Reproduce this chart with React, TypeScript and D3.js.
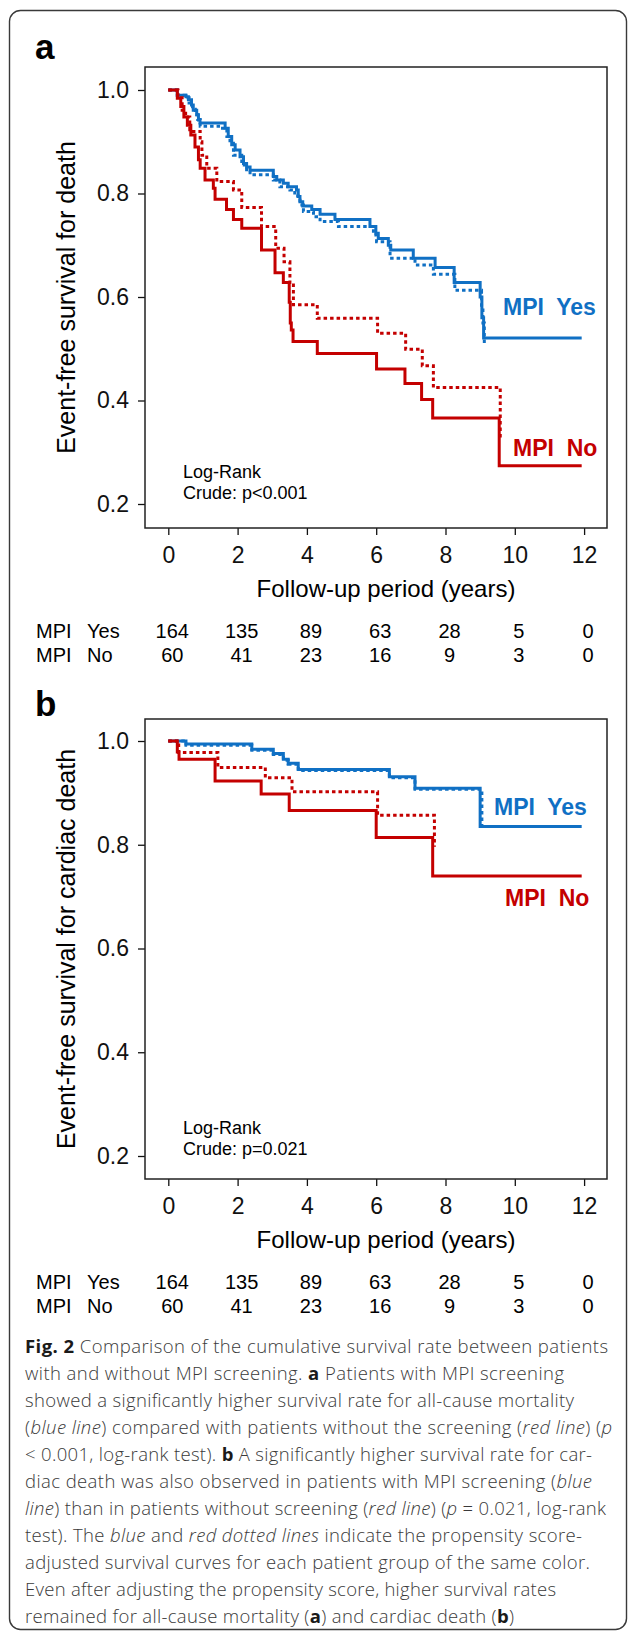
import { useEffect, useRef } from 'react';
import * as d3 from 'd3';

// number-at-risk table
const xTicks = [0, 2, 4, 6, 8, 10, 12];
const yTicks = [0.2, 0.4, 0.6, 0.8, 1.0];
const riskYes = [164, 135, 89, 63, 28, 5, 0];
const riskNo = [60, 41, 23, 16, 9, 3, 0];

// panel a, all-cause death: [years, survival]
const aYes: [number, number][] = [
  [0, 1], [0.26, 0.99], [0.51, 0.987], [0.58, 0.981], [0.67, 0.971], [0.72, 0.961], [0.82, 0.952],
  [0.87, 0.942], [0.915, 0.936], [1.64, 0.926], [1.73, 0.91], [1.83, 0.894], [1.93, 0.884],
  [2.07, 0.871], [2.17, 0.858], [2.26, 0.851], [2.36, 0.845], [3.03, 0.833], [3.13, 0.826],
  [3.32, 0.82], [3.46, 0.813], [3.7, 0.807], [3.75, 0.794], [3.8, 0.784], [3.88, 0.776],
  [4.14, 0.769], [4.38, 0.76], [4.81, 0.75], [5.82, 0.736], [5.99, 0.723], [6.06, 0.713],
  [6.35, 0.7], [6.42, 0.691], [7.07, 0.675], [7.7, 0.657], [8.25, 0.628], [9.0, 0.6],
  [9.05, 0.56], [9.1, 0.521], [11.93, 0.521],
];
const aYesAdj: [number, number][] = [
  [0, 1], [0.26, 0.99], [0.5, 0.985], [0.6, 0.975], [0.7, 0.963], [0.78, 0.952], [0.85, 0.943],
  [0.92, 0.93], [1.45, 0.926], [1.69, 0.91], [1.78, 0.897], [1.88, 0.874], [2.12, 0.855],
  [2.26, 0.843], [2.36, 0.836], [3.03, 0.826], [3.22, 0.813], [3.51, 0.807], [3.65, 0.795],
  [3.8, 0.778], [3.9, 0.765], [4.19, 0.755], [4.38, 0.746], [4.91, 0.736], [5.92, 0.72],
  [6.01, 0.707], [6.4, 0.675], [7.12, 0.662], [7.65, 0.644], [8.27, 0.613], [9.04, 0.58],
  [9.08, 0.55], [9.12, 0.51],
];
const aNo: [number, number][] = [
  [0, 1], [0.26, 0.984], [0.36, 0.968], [0.45, 0.948], [0.55, 0.932], [0.65, 0.913], [0.77, 0.89],
  [0.87, 0.865], [0.92, 0.849], [1.06, 0.826], [1.3, 0.81], [1.35, 0.789], [1.68, 0.769],
  [1.88, 0.75], [2.12, 0.733], [2.69, 0.691], [3.08, 0.647], [3.32, 0.628], [3.49, 0.59],
  [3.52, 0.55], [3.55, 0.536], [3.6, 0.514], [4.3, 0.491], [6.01, 0.461], [6.83, 0.433],
  [7.31, 0.402], [7.63, 0.366], [9.55, 0.274], [11.93, 0.274],
];
const aNoAdj: [number, number][] = [
  [0, 1], [0.28, 0.985], [0.4, 0.961], [0.5, 0.948], [0.62, 0.923], [0.65, 0.92], [0.92, 0.9],
  [0.97, 0.874], [1.11, 0.849], [1.4, 0.823], [1.88, 0.807], [2.12, 0.773], [2.69, 0.736],
  [3.1, 0.694], [3.34, 0.668], [3.51, 0.628], [3.61, 0.585], [4.3, 0.559], [6.04, 0.53],
  [6.85, 0.499], [7.33, 0.467], [7.65, 0.425], [9.58, 0.327],
];

// panel b, cardiac death
const bYes: [number, number][] = [
  [0, 1], [0.51, 0.994], [2.41, 0.984], [3.03, 0.976], [3.32, 0.965], [3.46, 0.957],
  [3.75, 0.945], [6.38, 0.931], [7.12, 0.909], [9.0, 0.835], [11.93, 0.835],
];
const bYesAdj: [number, number][] = [
  [0, 1], [0.51, 0.992], [2.41, 0.982], [3.03, 0.974], [3.32, 0.963], [3.46, 0.955],
  [3.75, 0.943], [6.38, 0.929], [7.12, 0.907], [9.05, 0.838],
];
const bNo: [number, number][] = [
  [0, 1], [0.26, 0.979], [0.31, 0.965], [1.35, 0.923], [2.68, 0.898], [3.49, 0.866],
  [6.0, 0.814], [7.63, 0.74], [11.93, 0.74],
];
const bNoAdj: [number, number][] = [
  [0, 1], [0.3, 0.978], [1.43, 0.949], [2.8, 0.929], [3.57, 0.902], [6.04, 0.857], [7.68, 0.796],
];

const captionLines: [string, string][][] = [
  [["Fig. 2", "b"], [" Comparison of the cumulative survival rate between patients", ""]],
  [["with and without MPI screening. ", ""], ["a", "b"], [" Patients with MPI screening", ""]],
  [["showed a significantly higher survival rate for all-cause mortality", ""]],
  [["(", ""], ["blue line", "i"], [") compared with patients without the screening (", ""], ["red line", "i"], [") (", ""], ["p", "i"]],
  [["< 0.001, log-rank test). ", ""], ["b", "b"], [" A significantly higher survival rate for car-", ""]],
  [["diac death was also observed in patients with MPI screening (", ""], ["blue", "i"]],
  [["line", "i"], [") than in patients without screening (", ""], ["red line", "i"], [") (", ""], ["p", "i"], [" = 0.021, log-rank", ""]],
  [["test). The ", ""], ["blue", "i"], [" and ", ""], ["red dotted lines", "i"], [" indicate the propensity score-", ""]],
  [["adjusted survival curves for each patient group of the same color.", ""]],
  [["Even after adjusting the propensity score, higher survival rates", ""]],
  [["remained for all-cause mortality (", ""], ["a", "b"], [") and cardiac death (", ""], ["b", "b"], [")", ""]],
];
const captionRight = [608, 564, 574, 612, 592, 592, 606, 582, 590, 556, 514];

export default function App() {
  const ref = useRef<SVGSVGElement>(null);

  useEffect(() => {
    if (!ref.current) return;
    const svg = d3.select(ref.current);
    svg.selectAll("*").remove();

    const font = "'Liberation Sans', Arial, Helvetica, sans-serif";
    const blue = "#1070c4";
    const red = "#c40000";

    // card border
    svg.append("rect")
      .attr("x", 9.5).attr("y", 10.5)
      .attr("width", 617).attr("height", 1619)
      .attr("rx", 11)
      .attr("fill", "none")
      .attr("stroke", "#3a3a3a")
      .attr("stroke-width", 1.4);

    const x = d3.scaleLinear().domain([0, 12]).range([168.3, 584.1]);

    const panels = [
      {
        letter: "a", letterY: 59, top: 67, bottom: 528, y02: 504, y10: 90,
        ylab: "Event-free survival for death",
        curves: [aYes, aYesAdj, aNo, aNoAdj],
        yesY: 315, yesX: 503, noY: 456, noX: 513,
        logY: 478, pText: "Crude: p<0.001",
      },
      {
        letter: "b", letterY: 716, top: 719, bottom: 1179, y02: 1156, y10: 741,
        ylab: "Event-free survival for cardiac death",
        curves: [bYes, bYesAdj, bNo, bNoAdj],
        yesY: 815, yesX: 494, noY: 906, noX: 505,
        logY: 1134, pText: "Crude: p=0.021",
      },
    ];

    panels.forEach(p => {
      const y = d3.scaleLinear().domain([0.2, 1]).range([p.y02, p.y10]);
      const g = svg.append("g").attr("font-family", font);

      g.append("text")
        .attr("x", 35).attr("y", p.letterY)
        .attr("font-size", 35).attr("font-weight", "bold")
        .text(p.letter);

      // y axis
      g.append("g")
        .attr("transform", `translate(145,0)`)
        .call(d3.axisLeft(y).tickValues(yTicks).tickFormat(d3.format(".1f")).tickSize(7).tickPadding(9))
        .call(a => a.select(".domain").remove())
        .attr("font-size", 23).attr("font-family", font)
        .call(a => a.selectAll("line").attr("stroke", "#111").attr("stroke-width", 1.3))
        .call(a => a.selectAll("text").attr("fill", "#111"));

      // x axis
      g.append("g")
        .attr("transform", `translate(0,${p.bottom})`)
        .call(d3.axisBottom(x).tickValues(xTicks).tickSize(7).tickPadding(12))
        .call(a => a.select(".domain").remove())
        .attr("font-size", 23).attr("font-family", font)
        .call(a => a.selectAll("line").attr("stroke", "#111").attr("stroke-width", 1.3))
        .call(a => a.selectAll("text").attr("fill", "#111"));

      // box
      g.append("rect")
        .attr("x", 145).attr("y", p.top)
        .attr("width", 607 - 145).attr("height", p.bottom - p.top)
        .attr("fill", "none").attr("stroke", "#222").attr("stroke-width", 1.5);

      const line = d3.line<[number, number]>()
        .x(d => x(d[0]))
        .y(d => y(d[1]))
        .curve(d3.curveStepAfter);

      const styles = [
        { color: blue, dash: null },
        { color: blue, dash: "3.5,3" },
        { color: red, dash: null },
        { color: red, dash: "3.5,3" },
      ];
      p.curves.forEach((c, i) => {
        g.append("path")
          .datum(c)
          .attr("d", line)
          .attr("fill", "none")
          .attr("stroke", styles[i].color)
          .attr("stroke-width", 3)
          .attr("stroke-dasharray", styles[i].dash);
      });

      g.append("text")
        .attr("x", p.yesX).attr("y", p.yesY)
        .attr("font-size", 23).attr("font-weight", "bold")
        .attr("fill", blue).style("white-space", "pre")
        .text("MPI  Yes");
      g.append("text")
        .attr("x", p.noX).attr("y", p.noY)
        .attr("font-size", 23).attr("font-weight", "bold")
        .attr("fill", red).style("white-space", "pre")
        .text("MPI  No");

      g.append("text").attr("x", 183).attr("y", p.logY).attr("font-size", 18).text("Log-Rank");
      g.append("text").attr("x", 183).attr("y", p.logY + 21).attr("font-size", 18).text(p.pText);

      // axis titles
      g.append("text")
        .attr("transform", `translate(75,${(p.top + p.bottom) / 2}) rotate(-90)`)
        .attr("text-anchor", "middle")
        .attr("font-size", 25)
        .text(p.ylab);
      g.append("text")
        .attr("x", 386).attr("y", p.bottom + 69)
        .attr("text-anchor", "middle")
        .attr("font-size", 24)
        .text("Follow-up period (years)");

      // numbers at risk
      const rows = [
        { name: "Yes", vals: riskYes, y: p.bottom + 110 },
        { name: "No", vals: riskNo, y: p.bottom + 134 },
      ];
      rows.forEach(r => {
        g.append("text").attr("x", 36).attr("y", r.y).attr("font-size", 20).text("MPI");
        g.append("text").attr("x", 87).attr("y", r.y).attr("font-size", 20).text(r.name);
        g.selectAll(null)
          .data(r.vals)
          .join("text")
          .attr("x", (_, i) => x(xTicks[i]) + 4)
          .attr("y", r.y)
          .attr("text-anchor", "middle")
          .attr("font-size", 20)
          .text(d => d);
      });
    });

    // caption
    const cap = svg.append("g")
      .attr("font-family", "'Open Sans', 'Noto Sans', sans-serif")
      .attr("font-size", 18.5)
      .attr("font-weight", 300)
      .attr("fill", "#3a3a3a");
    captionLines.forEach((segs, i) => {
      const t = cap.append("text")
        .attr("x", 25)
        .attr("y", 1353 + i * 27)
        .attr("textLength", captionRight[i] - 25)
        .attr("lengthAdjust", "spacing")
        .style("white-space", "pre");
      segs.forEach(([s, st]) => {
        t.append("tspan")
          .attr("font-weight", st === "b" ? 700 : null)
          .attr("font-style", st === "i" ? "italic" : null)
          .attr("fill", st === "b" ? "#1a1a1a" : null)
          .text(s);
      });
    });
  }, []);

  return (
    <div style={{ position: "absolute", left: 0, top: 0, background: "#fff" }}>
      <svg ref={ref} width={629} height={1634} viewBox="0 0 629 1634"></svg>
    </div>
  );
}
